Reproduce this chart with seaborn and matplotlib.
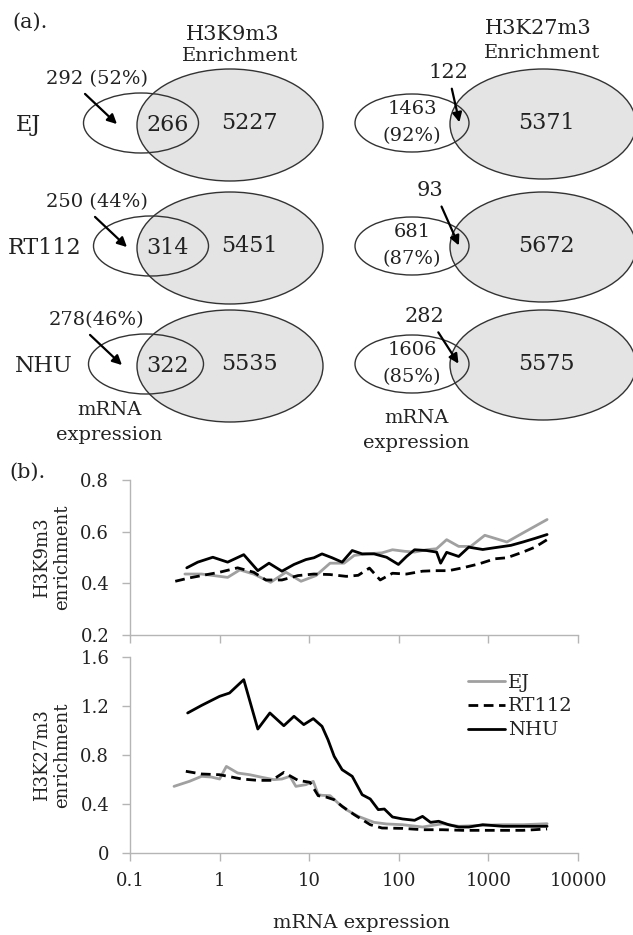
import numpy as np
import pandas as pd
import matplotlib
matplotlib.use("Agg")
import matplotlib.pyplot as plt
import seaborn as sns
from matplotlib.patches import Ellipse

# ---------------- data ----------------
cell_lines = ["EJ", "RT112", "NHU"]
# H3K9m3 Venn
k9_mrna_only = ["292 (52%)", "250 (44%)", "278(46%)"]
k9_overlap = [266, 314, 322]
k9_enrich_only = [5227, 5451, 5535]
# H3K27m3 Venn
k27_mrna_only = [1463, 681, 1606]
k27_mrna_pct = ["(92%)", "(87%)", "(85%)"]
k27_overlap = [122, 93, 282]
k27_enrich_only = [5371, 5672, 5575]

# (b) H3K9m3 enrichment vs mRNA expression
k9_ej_x = [0.41, 0.63, 0.86, 1.23, 1.68, 2.40, 3.71, 5.50, 8.1, 11.9, 17.1, 24.5, 31.8, 43.3,
           65, 85, 116, 150, 204, 264, 342, 466, 635, 912, 1610, 2430, 4520]
k9_ej_y = [0.436, 0.436, 0.430, 0.423, 0.452, 0.436, 0.404, 0.443, 0.408, 0.430, 0.478, 0.478,
           0.508, 0.514, 0.518, 0.530, 0.524, 0.521, 0.530, 0.534, 0.569, 0.543, 0.543, 0.586,
           0.560, 0.595, 0.647]
k9_rt_x = [0.32, 0.46, 0.70, 1.0, 1.59, 2.40, 3.28, 4.96, 7.5, 11.3, 17.1, 25.9, 35.2, 47, 62,
           85, 122, 184, 251, 360, 516, 780, 1180, 1610, 2430, 3310, 4520]
k9_rt_y = [0.408, 0.421, 0.433, 0.443, 0.460, 0.443, 0.413, 0.413, 0.430, 0.436, 0.434, 0.427,
           0.431, 0.459, 0.413, 0.439, 0.436, 0.447, 0.449, 0.449, 0.460, 0.475, 0.495, 0.499,
           0.521, 0.540, 0.569]
k9_nhu_x = [0.43, 0.57, 0.84, 1.23, 1.86, 2.67, 3.56, 4.96, 6.76, 9.2, 11.3, 13.9, 18.0, 23.3,
            30.2, 39, 53, 73, 99, 122, 150, 204, 264, 293, 342, 466, 603, 865, 1180, 1783,
            2430, 3310, 4520]
k9_nhu_y = [0.460, 0.482, 0.501, 0.482, 0.511, 0.449, 0.478, 0.447, 0.473, 0.492, 0.499, 0.514,
            0.499, 0.482, 0.527, 0.514, 0.514, 0.501, 0.473, 0.504, 0.530, 0.527, 0.521, 0.478,
            0.520, 0.504, 0.540, 0.531, 0.538, 0.547, 0.560, 0.574, 0.589]

# (b) H3K27m3 enrichment vs mRNA expression
k27_ej_x = [0.31, 0.46, 0.63, 0.81, 1.0, 1.19, 1.59, 2.17, 2.96, 4.03, 4.96, 6.1, 7.1, 9.2, 11.1,
            12.6, 13.9, 17.1, 21.0, 25.9, 35.2, 53, 73, 110, 184, 308, 466, 865, 1449, 2430, 4520]
k27_ej_y = [0.544, 0.585, 0.626, 0.620, 0.604, 0.707, 0.653, 0.639, 0.618, 0.599, 0.604, 0.626,
            0.544, 0.558, 0.585, 0.476, 0.471, 0.468, 0.408, 0.354, 0.299, 0.250, 0.237, 0.231,
            0.212, 0.239, 0.218, 0.226, 0.231, 0.231, 0.239]
k27_rt_x = [0.42, 0.63, 1.0, 1.77, 2.67, 3.83, 5.21, 7.5, 10.2, 12.6, 15.4, 19.0, 23.3, 31.8, 48,
            65, 110, 184, 308, 516, 865, 1449, 2430, 4520]
k27_rt_y = [0.667, 0.645, 0.639, 0.604, 0.593, 0.593, 0.658, 0.593, 0.577, 0.468, 0.457, 0.435,
            0.381, 0.313, 0.231, 0.204, 0.201, 0.190, 0.190, 0.185, 0.185, 0.185, 0.185, 0.196]
k27_nhu_x = [0.44, 0.63, 1.0, 1.29, 1.86, 2.67, 3.64, 5.21, 6.76, 8.7, 11.1, 13.9, 16.2, 19.0,
             23.3, 30.2, 39, 48, 59, 69, 85, 110, 150, 184, 226, 278, 360, 466, 603, 865, 1449,
             2430, 4520]
k27_nhu_y = [1.143, 1.205, 1.279, 1.306, 1.415, 1.012, 1.143, 1.039, 1.116, 1.048, 1.097, 1.034,
             0.925, 0.789, 0.680, 0.626, 0.476, 0.441, 0.354, 0.359, 0.294, 0.278, 0.267, 0.299,
             0.250, 0.259, 0.231, 0.212, 0.212, 0.231, 0.218, 0.218, 0.218]

x_ticks = [0.1, 1, 10, 100, 1000, 10000]
x_tick_labels = ["0.1", "1", "10", "100", "1000", "10000"]
k9_yticks = [0.2, 0.4, 0.6, 0.8]
k27_yticks = [0, 0.4, 0.8, 1.2, 1.6]

# ---------------- style ----------------
sns.set_style("ticks")
plt.rcParams["font.family"] = ["DejaVu Serif"]
plt.rcParams["axes.edgecolor"] = "#b5b5b5"
plt.rcParams["xtick.color"] = "#b5b5b5"
plt.rcParams["ytick.color"] = "#b5b5b5"
plt.rcParams["xtick.labelcolor"] = "#222222"
plt.rcParams["ytick.labelcolor"] = "#222222"

W, H = 633, 935
fig = plt.figure(figsize=(W / 100, H / 100), dpi=100)
fig.patch.set_facecolor("white")

TXT = "#222222"
EDGE = "#333333"
FILL = "#e4e4e4"

# ---------------- (a) Venn panel ----------------
va = fig.add_axes([0, 0, 1, 1])
va.set_xlim(0, W)
va.set_ylim(H, 0)
va.axis("off")

va.text(12, 22, "(a).", fontsize=15, color=TXT, ha="left", va="center")
va.text(233, 35, "H3K9m3", fontsize=15, color=TXT, ha="center", va="center")
va.text(240, 56, "Enrichment", fontsize=14, color=TXT, ha="center", va="center")
va.text(538, 29, "H3K27m3", fontsize=15, color=TXT, ha="center", va="center")
va.text(542, 53, "Enrichment", fontsize=14, color=TXT, ha="center", va="center")

row_y = [123, 246, 364]
name_x = [28, 45, 44]
small_left_x = [141, 151, 146]
k27_label_y = [72, 190, 316]
k27_label_x = [448, 430, 424]
for i, name in enumerate(cell_lines):
    yc = row_y[i]
    sx = small_left_x[i]
    # left (H3K9m3)
    va.add_patch(Ellipse((230, yc + 2), 186, 112, facecolor=FILL, edgecolor=EDGE, lw=1.0, zorder=1))
    va.add_patch(Ellipse((sx, yc), 115, 60, facecolor="none", edgecolor=EDGE, lw=1.0, zorder=2))
    va.text(name_x[i], yc + 2, name, fontsize=16, color=TXT, ha="center", va="center")
    va.text(168, yc + 2, str(k9_overlap[i]), fontsize=16, color=TXT, ha="center", va="center")
    va.text(249, yc, str(k9_enrich_only[i]), fontsize=16, color=TXT, ha="center", va="center")
    va.text(97, yc - 44, k9_mrna_only[i], fontsize=14, color=TXT, ha="center", va="center")
    va.annotate("", xy=(sx - 22, yc + 3), xytext=(sx - 58, yc - 31),
                arrowprops=dict(arrowstyle="-|>", color="black", lw=1.6, mutation_scale=14),
                zorder=3)
    # right (H3K27m3)
    va.add_patch(Ellipse((543, yc + 1), 186, 110, facecolor=FILL, edgecolor=EDGE, lw=1.0, zorder=1))
    va.add_patch(Ellipse((412, yc), 114, 58, facecolor="none", edgecolor=EDGE, lw=1.0, zorder=2))
    va.text(412, yc - 14, str(k27_mrna_only[i]), fontsize=14, color=TXT, ha="center", va="center")
    va.text(412, yc + 13, k27_mrna_pct[i], fontsize=14, color=TXT, ha="center", va="center")
    va.text(546, yc, str(k27_enrich_only[i]), fontsize=16, color=TXT, ha="center", va="center")
    va.text(k27_label_x[i], k27_label_y[i], str(k27_overlap[i]), fontsize=15, color=TXT,
            ha="center", va="center")
    va.annotate("", xy=(460, yc + 2), xytext=(k27_label_x[i] + 0.4 * (446 - k27_label_x[i]) + 4,
                                              k27_label_y[i] + 14),
                arrowprops=dict(arrowstyle="-|>", color="black", lw=1.6, mutation_scale=14),
                zorder=3)

va.text(109, 410, "mRNA", fontsize=14, color=TXT, ha="center", va="center")
va.text(109, 435, "expression", fontsize=14, color=TXT, ha="center", va="center")
va.text(416, 418, "mRNA", fontsize=14, color=TXT, ha="center", va="center")
va.text(416, 443, "expression", fontsize=14, color=TXT, ha="center", va="center")
va.text(9, 472, "(b).", fontsize=15, color=TXT, ha="left", va="center")

# ---------------- (b) line charts ----------------
def px_axes(x0, x1, ytop, ybot):
    return fig.add_axes([x0 / W, (H - ybot) / H, (x1 - x0) / W, (ybot - ytop) / H])

ax1 = px_axes(130, 578, 480, 635)
ax2 = px_axes(130, 578, 657, 853)

GREY = "#a0a0a0"
LW = 2.0

def series_df(x, y, name):
    return pd.DataFrame({"x": x, "y": y, "series": name})

for ax, ej, rt, nhu in [
    (ax1, (k9_ej_x, k9_ej_y), (k9_rt_x, k9_rt_y), (k9_nhu_x, k9_nhu_y)),
    (ax2, (k27_ej_x, k27_ej_y), (k27_rt_x, k27_rt_y), (k27_nhu_x, k27_nhu_y)),
]:
    sns.lineplot(data=series_df(*ej, "EJ"), x="x", y="y", ax=ax, color=GREY, lw=LW, label="EJ")
    sns.lineplot(data=series_df(*rt, "RT112"), x="x", y="y", ax=ax, color="black", lw=LW,
                 label="RT112").lines[-1].set_dashes((3.5, 2.0))
    sns.lineplot(data=series_df(*nhu, "NHU"), x="x", y="y", ax=ax, color="black", lw=LW, label="NHU")

for ax in (ax1, ax2):
    ax.set_xscale("log")
    ax.set_xlim(0.1, 10000)
    ax.set_xticks(x_ticks)
    ax.minorticks_off()
    ax.tick_params(axis="both", length=6, width=1.0, labelsize=13)
    ax.tick_params(axis="y", pad=9)
    ax.tick_params(axis="x", pad=8)
    for s in ("top", "right"):
        ax.spines[s].set_visible(False)
    for s in ("left", "bottom"):
        ax.spines[s].set_linewidth(1.0)
    ax.set_facecolor("none")

ax1.set_ylim(0.2, 0.8)
ax1.set_yticks(k9_yticks)
ax1.set_yticklabels([f"{v:.1f}" for v in k9_yticks])
ax1.set_xticklabels([])
ax1.set_xlabel("")
ax1.set_ylabel("H3K9m3\nenrichment", fontsize=13, color=TXT, linespacing=1.15)
ax1.yaxis.set_label_coords(-0.132, 0.5)
ax1.get_legend().remove()

ax2.set_ylim(0, 1.6)
ax2.set_yticks(k27_yticks)
ax2.set_yticklabels(["0", "0.4", "0.8", "1.2", "1.6"])
ax2.set_xticklabels(x_tick_labels)
ax2.set_xlabel("mRNA expression", fontsize=14, color=TXT)
ax2.xaxis.set_label_coords(0.516, -0.31)
ax2.set_ylabel("H3K27m3\nenrichment", fontsize=13, color=TXT, linespacing=1.15)
ax2.yaxis.set_label_coords(-0.132, 0.5)
leg = ax2.legend(loc="upper left", bbox_to_anchor=(0.755, 0.915), frameon=False, fontsize=14,
                 handlelength=1.9, handletextpad=0.15, labelspacing=0.3, borderpad=0,
                 borderaxespad=0)
for t in leg.get_texts():
    t.set_color(TXT)

fig.savefig("out.png", dpi=100, facecolor="white")
